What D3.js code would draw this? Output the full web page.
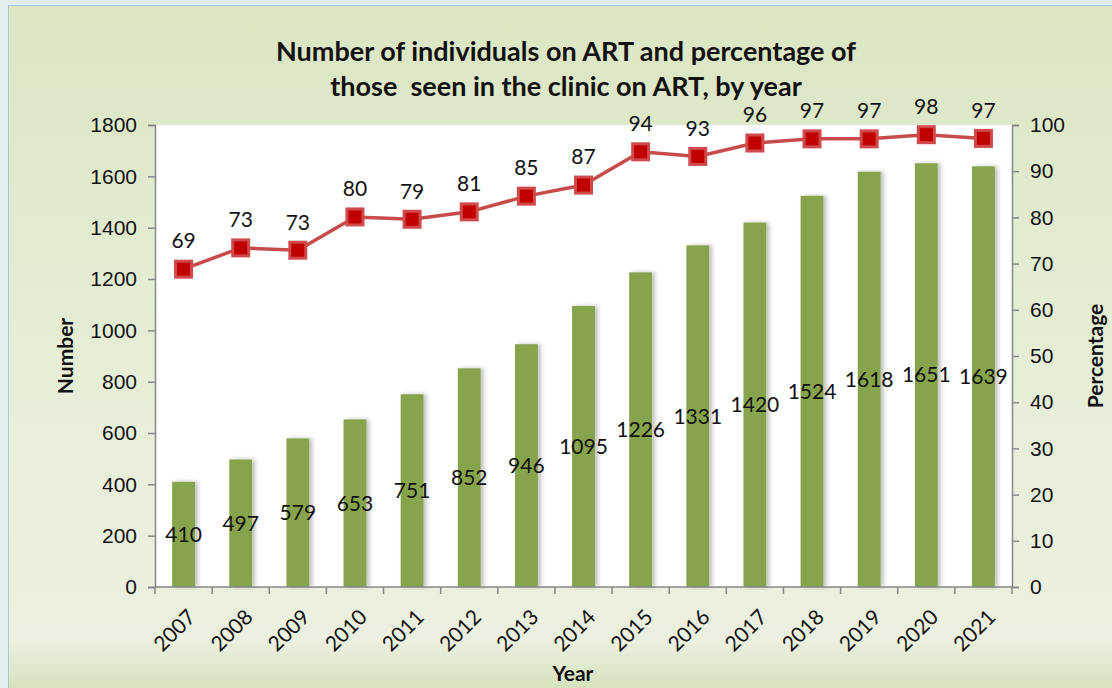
<!DOCTYPE html>
<html>
<head>
<meta charset="utf-8">
<script src="https://cdn.jsdelivr.net/npm/d3@7"></script>
<style>
  html, body { margin: 0; padding: 0; background: #e2efee; }
  svg { display: block; font-family: Lato, "Open Sans", sans-serif; }
</style>
</head>
<body>
<div id="chart"></div>
<script>
// data
const years = ['2007', '2008', '2009', '2010', '2011', '2012', '2013', '2014',
               '2015', '2016', '2017', '2018', '2019', '2020', '2021'];
const onArt = [410, 497, 579, 653, 751, 852, 946, 1095, 1226, 1331, 1420, 1524, 1618, 1651, 1639];
const pctOnArt = [68.8, 73.4, 72.9, 80.1, 79.6, 81.2, 84.6, 87.0, 94.2, 93.2, 96.1, 97.0, 97.0, 97.9, 97.1];
const pctLabels = [69, 73, 73, 80, 79, 81, 85, 87, 94, 93, 96, 97, 97, 98, 97];
const leftTicks = [0, 200, 400, 600, 800, 1000, 1200, 1400, 1600, 1800];
const rightTicks = [0, 10, 20, 30, 40, 50, 60, 70, 80, 90, 100];

const W = 1112, H = 688;
const margin = { top: 125, right: 100, bottom: 101, left: 155 };
const innerW = W - margin.left - margin.right;
const innerH = H - margin.top - margin.bottom;
const fs = '21px';

const svg = d3.select('#chart').append('svg')
    .attr('width', W)
    .attr('height', H);

const defs = svg.append('defs');
const grad = defs.append('linearGradient')
    .attr('id', 'bg')
    .attr('x1', 0).attr('y1', 0).attr('x2', 0).attr('y2', 1);
grad.append('stop').attr('offset', '0%').attr('stop-color', '#dbe6c3');
grad.append('stop').attr('offset', '55%').attr('stop-color', '#e7eed8');
grad.append('stop').attr('offset', '93%').attr('stop-color', '#ecf0e0');
grad.append('stop').attr('offset', '100%').attr('stop-color', '#d6e2bd');

const shadow = defs.append('filter').attr('id', 'shadow')
    .attr('x', '-30%').attr('y', '-5%').attr('width', '170%').attr('height', '110%');
shadow.append('feDropShadow')
    .attr('dx', 3).attr('dy', 0).attr('stdDeviation', 2)
    .attr('flood-color', '#000').attr('flood-opacity', 0.25);

// chart background
svg.append('rect')
    .attr('x', 8.5).attr('y', 5.5)
    .attr('width', W - 8).attr('height', H - 5)
    .attr('fill', 'url(#bg)')
    .attr('stroke', '#a8c4d6');

const g = svg.append('g')
    .attr('transform', `translate(${margin.left},${margin.top})`);

// plot area
g.append('rect')
    .attr('width', innerW).attr('height', innerH)
    .attr('fill', '#fff');

const x = d3.scaleBand().domain(years).range([0, innerW]).paddingInner(0.6).paddingOuter(0.3);
const xc = d3.scalePoint().domain(years).range([0, innerW]).padding(0.5);
const yL = d3.scaleLinear().domain([0, 1800]).range([innerH, 0]);
const yR = d3.scaleLinear().domain([0, 100]).range([innerH, 0]);

// bars
g.selectAll('.bar').data(years).enter().append('rect')
    .attr('class', 'bar')
    .attr('x', (d) => xc(d) - x.bandwidth() / 2)
    .attr('y', (d, i) => yL(onArt[i]))
    .attr('width', x.bandwidth())
    .attr('height', (d, i) => innerH - yL(onArt[i]))
    .attr('fill', '#87a34b')
    .attr('filter', 'url(#shadow)');

// axes
const axisColor = '#878787';
const styleAxis = (sel) => {
    sel.selectAll('path, line').attr('stroke', axisColor).attr('stroke-width', 1.5);
    sel.selectAll('text').attr('fill', '#111').style('font-size', fs);
};

g.append('g')
    .call(d3.axisLeft(yL).tickValues(leftTicks).tickFormat(d3.format('d'))
        .tickSize(7).tickSizeOuter(7).tickPadding(11))
    .call(styleAxis);

g.append('g')
    .attr('transform', `translate(${innerW},0)`)
    .call(d3.axisRight(yR).tickValues(rightTicks).tickSize(7).tickSizeOuter(7).tickPadding(11))
    .call(styleAxis);

// x axis: ticks between categories
const step = innerW / years.length;
const xAxis = g.append('g').attr('transform', `translate(0,${innerH})`);
xAxis.append('line')
    .attr('x1', 0).attr('x2', innerW)
    .attr('stroke', axisColor).attr('stroke-width', 1.5);
xAxis.selectAll('.xt').data(d3.range(years.length + 1)).enter().append('line')
    .attr('x1', (d) => d * step).attr('x2', (d) => d * step)
    .attr('y1', 0).attr('y2', 7)
    .attr('stroke', axisColor).attr('stroke-width', 1.5);
xAxis.selectAll('.xl').data(years).enter().append('text')
    .attr('transform', (d) => `translate(${xc(d) + 3},${21}) rotate(-45)`)
    .attr('text-anchor', 'end')
    .attr('dy', '0.7em')
    .style('font-size', fs)
    .attr('fill', '#111')
    .text((d) => d);

// bar value labels, centred in the bars
g.selectAll('.blab').data(years).enter().append('text')
    .attr('x', (d) => xc(d))
    .attr('y', (d, i) => yL(onArt[i] / 2))
    .attr('dy', '0.35em')
    .attr('text-anchor', 'middle')
    .style('font-size', fs)
    .attr('fill', '#111')
    .text((d, i) => onArt[i]);

// percentage line
const line = d3.line()
    .x((d, i) => xc(years[i]))
    .y((d) => yR(d));
g.append('path')
    .datum(pctOnArt)
    .attr('d', line)
    .attr('fill', 'none')
    .attr('stroke', '#c84b4b')
    .attr('stroke-width', 3.5);

const mk = 16;
g.selectAll('.mk').data(pctOnArt).enter().append('rect')
    .attr('x', (d, i) => xc(years[i]) - mk / 2)
    .attr('y', (d) => yR(d) - mk / 2)
    .attr('width', mk).attr('height', mk)
    .attr('fill', '#c00000')
    .attr('stroke', '#d0494b')
    .attr('stroke-width', 3);

g.selectAll('.plab').data(pctLabels).enter().append('text')
    .attr('x', (d, i) => xc(years[i]))
    .attr('y', (d, i) => yR(pctOnArt[i]) - 28)
    .attr('dy', '0.35em')
    .attr('text-anchor', 'middle')
    .style('font-size', fs)
    .attr('fill', '#111')
    .text((d) => d);

// titles
const title = svg.append('text')
    .attr('x', 566).attr('y', 52)
    .attr('text-anchor', 'middle')
    .style('font-size', '27px')
    .style('font-weight', 'bold')
    .style('white-space', 'pre')
    .attr('fill', '#111');
title.append('tspan').attr('x', 566).attr('dy', '0.35em')
    .text('Number of individuals on ART and percentage of');
title.append('tspan').attr('x', 566).attr('dy', '1.27em')
    .text('those  seen in the clinic on ART, by year');

svg.append('text')
    .attr('x', 573).attr('y', 674)
    .attr('dy', '0.35em')
    .attr('text-anchor', 'middle')
    .style('font-size', '21px').style('font-weight', 'bold')
    .attr('fill', '#111')
    .text('Year');

svg.append('text')
    .attr('transform', 'translate(66,356) rotate(-90)')
    .attr('dy', '0.35em')
    .attr('text-anchor', 'middle')
    .style('font-size', '21px').style('font-weight', 'bold')
    .attr('fill', '#111')
    .text('Number');

svg.append('text')
    .attr('transform', 'translate(1096,356) rotate(-90)')
    .attr('dy', '0.35em')
    .attr('text-anchor', 'middle')
    .style('font-size', '21px').style('font-weight', 'bold')
    .attr('fill', '#111')
    .text('Percentage');
</script>
</body>
</html>
